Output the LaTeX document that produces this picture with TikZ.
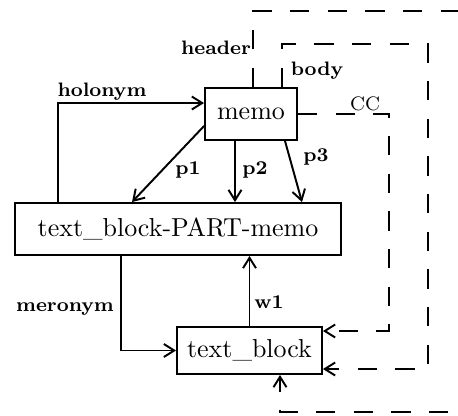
\documentclass[tikz,border=0pt]{standalone}
\usetikzlibrary{arrows.meta}

\begin{document}
\begin{tikzpicture}[x=0.385pt,y=-0.385pt,
        box/.style={draw,line width=0.75pt,inner sep=0pt},
        lbl/.style={font=\fontsize{7.5}{9}\selectfont\bfseries},
        link/.style={line width=0.75pt,-{Straight Barb[length=4pt,width=5pt]}},
        ref/.style={link,dash pattern=on 7.5pt off 7pt}]
    \clip (0,0) rectangle (458,415);

    % the three boxes
    \node[box,minimum width=35.4pt,minimum height=20pt] (memo) at (251,114) {memo};
    \node[box,minimum width=125.5pt,minimum height=20pt] (part) at (178,229) {text\_block-PART-memo};
    \node[box,minimum width=55.8pt,minimum height=18.1pt] (tb) at (249.5,350.5) {text\_block};

    % corners of the bent links
    \coordinate (holo) at (58,103);
    \coordinate (mero) at (121,351);
    \coordinate (hd) at (253,11);
    \coordinate (hdr) at (470,412);
    \coordinate (hdin) at (280,412);
    \coordinate (bd) at (282,44);
    \coordinate (bdr) at (428,369);
    \coordinate (cc) at (389,331);

    % part links
    \draw[link] (memo.west |- 0,126) -- (part.north -| 132,0);
    \draw[link] (memo.south -| 235,0) -- (part.north -| 235,0);
    \draw[link] (memo.south -| 285,0) -- (part.north -| 302,0);
    \draw[link] (part.north -| holo) |- (memo.west |- holo);
    \draw[link] (part.south -| mero) |- (tb.west);
    \draw[link] (tb.north) -- (part.south -| tb.north);

    % slots of memo
    \draw[ref] (memo.north -| hd) -- (hd) -- (hd -| hdr) -- (hdr) -- (hdin) -- (tb.south -| hdin);
    \draw[ref] (memo.north -| bd) -- (bd) -| (bdr) -- (tb.east |- bdr);
    \draw[ref] (memo.east) -| (cc) -- (tb.east |- cc);

    % labels
    \node[lbl] (lholo) at (102,92) {holonym};
    \node[lbl] (lmero) at (65,309) {meronym};
    \node[lbl] (lp1) at (188,170) {p1};
    \node[lbl] (lp2) at (255,170) {p2};
    \node[lbl] (lp3) at (316,157) {p3};
    \node[lbl] (lw1) at (269,302) {w1};
    \node[lbl] (lhd) at (216,48) {header};
    \node[lbl] (lbd) at (317,71) {body};
    \node[font=\fontsize{7.5}{9}\selectfont] (lcc) at (365,104) {CC};
\end{tikzpicture}
\end{document}
